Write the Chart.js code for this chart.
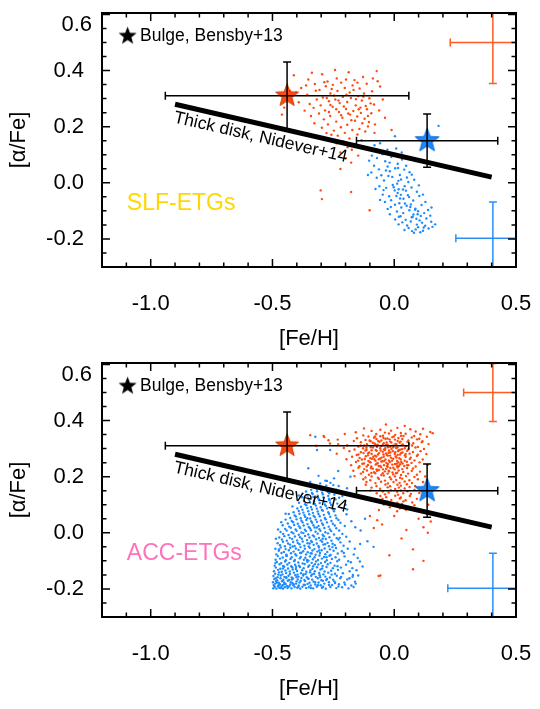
<!DOCTYPE html>
<html><head><meta charset="utf-8">
<script src="https://cdn.jsdelivr.net/npm/chart.js@4.4.1/dist/chart.umd.min.js"></script>
<style>
html,body{margin:0;padding:0;background:#fff;width:540px;height:709px;overflow:hidden;}
canvas{position:absolute;left:0;}
#c1{top:0}
#c2{top:350px}
</style></head><body>
<canvas id="c1" width="540" height="350"></canvas>
<canvas id="c2" width="540" height="350"></canvas>
<script>
// ---------------- axes / ticks ----------------
const xRange = [-1.2, 0.5];
const yRange = [-0.3, 0.605];
const xMajorTicks = [-1.0, -0.5, 0.0, 0.5];
const xMinorTicks = [-1.1,-0.9,-0.8,-0.7,-0.6,-0.4,-0.3,-0.2,-0.1,0.1,0.2,0.3,0.4];
const yMajorTicks = [-0.2, 0.0, 0.2, 0.4, 0.6];
const yMinorTicks = [-0.25,-0.15,-0.1,-0.05,0.05,0.1,0.15,0.25,0.3,0.35,0.45,0.5,0.55];
const xTitle = '[Fe/H]';
const yTitle = '[\u03b1/Fe]';

// ---------------- reference relations ----------------
const thickDiskFeH = [-0.9, 0.4];
const thickDiskAlpha = [0.28, 0.02];
const bulgeMarker = [-1.095, 0.523];
const redStar = {x:-0.44, y:0.31, xerr:0.50, yerr:0.12};
const blueStar = {x:0.135, y:0.15, xerr:0.29, yerr:0.095};

// typical error crosses
const slfRedErr = {x:0.405, y:0.50, xerr:0.175, yerr:0.146};
const slfBlueErr = {x:0.405, y:-0.198, xerr:0.152, yerr:0.13};
const accRedErr = {x:0.405, y:0.50, xerr:0.12, yerr:0.103};
const accBlueErr = {x:0.405, y:-0.198, xerr:0.185, yerr:0.125};

// ---------------- SLF-ETGs ----------------
const slfRed = [[-0.412,0.383],[-0.338,0.392],[-0.353,0.368],[-0.296,0.387],[-0.243,0.402],[-0.187,0.394],[-0.128,0.377],[-0.072,0.398],[-0.163,0.366],[-0.274,0.361],[-0.382,0.338],[-0.428,0.327],[-0.357,0.314],[-0.326,0.352],[-0.307,0.331],[-0.281,0.344],[-0.252,0.349],[-0.218,0.357],[-0.203,0.338],[-0.171,0.347],[-0.142,0.336],[-0.113,0.353],[-0.091,0.326],[-0.058,0.343],[-0.262,0.318],[-0.233,0.327],[-0.211,0.306],[-0.183,0.322],[-0.148,0.309],[-0.124,0.318],[-0.293,0.304],[-0.318,0.297],[-0.347,0.281],[-0.302,0.276],[-0.268,0.291],[-0.242,0.297],[-0.224,0.284],[-0.193,0.288],[-0.158,0.276],[-0.133,0.293],[-0.102,0.301],[-0.083,0.279],[-0.331,0.267],[-0.284,0.258],[-0.253,0.271],[-0.227,0.252],[-0.198,0.263],[-0.168,0.256],[-0.139,0.268],[-0.112,0.262],[-0.094,0.248],[-0.309,0.247],[-0.263,0.238],[-0.213,0.232],[-0.181,0.243],[-0.152,0.236],[-0.122,0.228],[-0.289,0.226],[-0.342,0.238],[-0.238,0.218],[-0.193,0.207],[-0.161,0.221],[-0.131,0.212],[-0.104,0.217],[-0.272,0.208],[-0.297,0.196],[-0.219,0.198],[-0.172,0.188],[-0.143,0.192],[-0.248,0.186],[-0.203,0.178],[-0.119,0.183],[-0.278,0.177],[-0.232,0.168],[-0.184,0.158],[-0.151,0.172],[-0.209,0.147],[-0.162,0.138],[-0.191,0.127],[-0.237,0.141],[-0.134,0.152],[-0.174,0.118],[-0.221,0.108],[-0.148,0.097],[-0.198,0.088],[-0.177,0.072],[-0.452,0.268],[-0.461,0.243],[-0.392,0.287],[-0.368,0.257],[-0.403,0.322],[-0.047,0.297],[-0.062,0.258],[-0.038,0.232],[-0.011,0.188],[-0.079,0.208],[-0.068,0.362],[-0.302,-0.027],[-0.297,-0.058],[-0.177,-0.033],[-0.101,-0.098],[-0.221,0.049],[-0.257,0.334],[-0.236,0.372],[-0.198,0.368],[-0.178,0.302],[-0.229,0.293],[-0.262,0.277],[-0.207,0.272],[-0.189,0.247],[-0.157,0.298],[-0.137,0.249],[-0.117,0.274],[-0.247,0.311],[-0.277,0.302],[-0.196,0.314],[-0.167,0.331],[-0.127,0.307],[-0.097,0.283],[-0.238,0.262],[-0.268,0.252],[-0.218,0.241],[-0.176,0.223],[-0.146,0.262],[-0.108,0.238],[-0.322,0.328],[-0.287,0.358],[-0.151,0.357],[-0.088,0.372],[-0.362,0.347],[-0.328,0.212],[-0.258,0.171],[-0.108,0.201],[-0.081,0.178]];

const slfBlue = [[0.182,0.203],[-0.081,0.134],[-0.058,0.141],[0.003,0.166],[-0.028,0.118],[-0.092,0.097],[-0.103,0.079],[-0.071,0.088],[-0.048,0.102],[-0.037,0.077],[-0.083,0.061],[-0.063,0.048],[-0.094,0.037],[-0.027,0.058],[-0.012,0.092],[0.014,0.068],[0.032,0.083],[-0.053,0.027],[-0.018,0.041],[0.004,0.052],[0.023,0.028],[0.041,0.047],[-0.072,0.018],[-0.042,0.008],[-0.008,0.021],[0.012,-0.003],[0.028,0.012],[0.052,0.019],[0.063,0.038],[-0.061,-0.012],[-0.033,-0.018],[-0.006,-0.008],[0.018,-0.023],[0.043,-0.012],[0.058,0.003],[0.082,0.011],[-0.047,-0.042],[-0.021,-0.048],[0.002,-0.027],[0.027,-0.043],[0.048,-0.028],[0.071,-0.017],[0.093,-0.032],[-0.038,-0.068],[-0.013,-0.062],[0.009,-0.047],[0.021,-0.073],[0.038,-0.057],[0.061,-0.051],[0.078,-0.063],[0.103,-0.047],[-0.027,-0.093],[0.003,-0.078],[0.029,-0.088],[0.051,-0.082],[0.068,-0.077],[0.087,-0.092],[0.112,-0.079],[-0.018,-0.112],[0.011,-0.102],[0.037,-0.108],[0.062,-0.098],[0.079,-0.113],[0.098,-0.101],[0.123,-0.108],[0.004,-0.131],[0.026,-0.119],[0.047,-0.132],[0.072,-0.123],[0.091,-0.128],[0.109,-0.118],[0.132,-0.127],[0.148,-0.117],[0.018,-0.148],[0.053,-0.152],[0.068,-0.138],[0.093,-0.149],[0.114,-0.142],[0.127,-0.153],[0.152,-0.139],[0.042,-0.168],[0.073,-0.172],[0.098,-0.158],[0.118,-0.171],[0.141,-0.163],[0.157,-0.157],[0.081,-0.178],[0.107,-0.176],[0.059,-0.161],[0.168,-0.148],[0.139,-0.097],[0.128,-0.068],[0.118,-0.042],[0.101,-0.009],[0.153,-0.088],[-0.108,0.028],[-0.077,-0.022],[-0.058,-0.061],[0.008,0.122],[0.031,0.108],[-0.019,0.072],[0.017,0.007],[-0.002,-0.016],[0.036,-0.024],[0.014,-0.036],[0.056,-0.044],[0.044,-0.074],[0.024,-0.056],[0.066,-0.086],[0.086,-0.096],[0.076,-0.121],[0.096,-0.112],[0.033,-0.141],[0.104,-0.134],[-0.044,-0.026],[-0.024,0.024],[0.016,0.053],[-0.034,0.044],[0.049,0.061],[0.072,0.029],[-0.014,-0.086],[0.019,-0.121],[0.121,-0.159],[0.088,-0.166]];

// ---------------- ACC-ETGs ----------------
const accRed = [[-0.034,0.386],[0.043,0.381],
[-0.124,0.372],[-0.057,0.367],[0.013,0.374],[0.066,0.369],[0.118,0.371],
[-0.158,0.358],[-0.093,0.363],[-0.038,0.357],[-0.013,0.364],[0.027,0.356],[0.088,0.361],[0.148,0.359],
[-0.203,0.352],[-0.127,0.347],[-0.074,0.352],[-0.046,0.346],[-0.022,0.354],[0.004,0.349],[0.047,0.353],[0.082,0.345],[0.107,0.351],[0.158,0.355],
[-0.287,0.341],[-0.153,0.337],[-0.106,0.343],[-0.083,0.339],[-0.057,0.344],[-0.028,0.336],[-0.008,0.341],[0.017,0.338],[0.038,0.345],[0.072,0.34],[0.103,0.335],[0.134,0.342],
[-0.232,0.332],[-0.166,0.327],[-0.118,0.331],[-0.097,0.326],[-0.073,0.334],[-0.053,0.329],[-0.036,0.335],[-0.017,0.325],[0.003,0.332],[0.014,0.327],[0.033,0.334],[0.058,0.329],[0.094,0.333],[0.116,0.326],
[-0.264,0.318],[-0.137,0.323],[-0.112,0.316],[-0.088,0.321],[-0.077,0.315],[-0.061,0.324],[-0.043,0.319],[-0.027,0.314],[-0.012,0.322],[0.005,0.317],[0.022,0.321],[0.036,0.315],[0.054,0.324],[0.078,0.319],[0.113,0.323],[0.141,0.316],
[-0.193,0.312],[-0.147,0.307],[-0.123,0.311],[-0.096,0.305],[-0.068,0.314],[-0.052,0.309],[-0.034,0.313],[-0.016,0.306],[-0.003,0.311],[0.013,0.304],[0.031,0.313],[0.048,0.308],[0.073,0.311],[0.097,0.306],
[-0.207,0.302],[-0.163,0.297],[-0.128,0.301],[-0.114,0.296],[-0.087,0.304],[-0.076,0.295],[-0.058,0.301],[-0.042,0.297],[-0.026,0.305],[-0.011,0.299],[0.008,0.302],[0.024,0.296],[0.043,0.301],[0.057,0.297],[0.087,0.304],[0.122,0.299],
[-0.184,0.291],[-0.137,0.287],[-0.118,0.293],[-0.103,0.286],[-0.072,0.292],[-0.047,0.289],[-0.038,0.295],[-0.023,0.285],[-0.006,0.291],[0.004,0.287],[0.018,0.294],[0.034,0.286],[0.053,0.292],[0.077,0.288],[0.108,0.291],
[-0.236,0.282],[-0.154,0.277],[-0.126,0.284],[-0.108,0.276],[-0.093,0.281],[-0.079,0.275],[-0.062,0.284],[-0.044,0.279],[-0.033,0.283],[-0.017,0.275],[0.002,0.281],[0.014,0.277],[0.028,0.284],[0.044,0.276],[0.063,0.282],[0.097,0.278],[0.132,0.281],
[-0.173,0.271],[-0.142,0.267],[-0.117,0.273],[-0.098,0.266],[-0.074,0.272],[-0.057,0.265],[-0.043,0.271],[-0.026,0.275],[-0.013,0.267],[0.006,0.272],[0.021,0.266],[0.047,0.271],[0.068,0.268],[0.093,0.274],
[-0.196,0.262],[-0.148,0.257],[-0.133,0.261],[-0.106,0.256],[-0.092,0.264],[-0.077,0.257],[-0.063,0.262],[-0.048,0.255],[-0.036,0.261],[-0.022,0.258],[-0.004,0.264],[0.012,0.256],[0.027,0.261],[0.043,0.257],[0.064,0.263],[0.083,0.258],[0.117,0.261],
[-0.157,0.252],[-0.124,0.247],[-0.097,0.251],[-0.073,0.246],[-0.053,0.254],[-0.032,0.249],[-0.018,0.252],[0.003,0.245],[0.017,0.251],[0.034,0.247],[0.052,0.253],[0.071,0.249],[0.104,0.251],
[-0.177,0.241],[-0.143,0.237],[-0.108,0.242],[-0.094,0.236],[-0.076,0.243],[-0.057,0.238],[-0.042,0.241],[-0.027,0.235],[-0.008,0.243],[0.012,0.237],[0.024,0.244],[0.041,0.238],[0.058,0.241],[0.088,0.236],[0.137,0.242],
[-0.147,0.232],[-0.123,0.227],[-0.096,0.231],[-0.072,0.226],[-0.054,0.234],[-0.033,0.228],[-0.016,0.231],[0.002,0.226],[0.014,0.233],[0.033,0.227],[0.053,0.231],[0.077,0.229],
[-0.168,0.221],[-0.128,0.217],[-0.112,0.222],[-0.083,0.216],[-0.063,0.224],[-0.038,0.219],[-0.023,0.221],[-0.007,0.215],[0.018,0.222],[0.037,0.217],[0.072,0.221],[0.106,0.218],
[-0.137,0.211],[-0.104,0.207],[-0.078,0.212],[-0.053,0.206],[-0.027,0.211],[-0.004,0.208],[0.012,0.214],[0.028,0.206],[0.057,0.211],[0.093,0.207],
[-0.163,0.202],[-0.118,0.197],[-0.093,0.201],[-0.067,0.196],[-0.043,0.204],[-0.018,0.198],[0.003,0.201],[0.024,0.196],[0.048,0.202],[0.083,0.199],[0.127,0.201],
[-0.127,0.191],[-0.098,0.187],[-0.063,0.192],[-0.038,0.186],[-0.013,0.191],[0.008,0.188],[0.033,0.193],[0.062,0.187],[0.097,0.191],
[-0.114,0.181],[-0.077,0.177],[-0.054,0.182],[-0.026,0.176],[-0.003,0.181],[0.022,0.178],[0.043,0.183],[0.073,0.177],[0.118,0.181],
[-0.117,0.171],[-0.073,0.167],[-0.036,0.172],[-0.017,0.166],[0.013,0.171],[0.027,0.168],[0.052,0.173],[0.086,0.167],
[-0.093,0.161],[-0.058,0.157],[-0.027,0.162],[0.004,0.156],[0.019,0.161],[0.043,0.158],[0.063,0.163],[0.107,0.157],
[-0.097,0.151],[-0.047,0.147],[-0.014,0.152],[0.012,0.146],[0.028,0.151],[0.054,0.148],[0.083,0.153],
[-0.072,0.141],[-0.038,0.137],[-0.023,0.143],[0.016,0.136],[0.037,0.141],[0.068,0.138],[0.103,0.142],
[-0.057,0.131],[-0.033,0.127],[0.004,0.132],[0.027,0.126],[0.064,0.131],
[-0.048,0.121],[-0.012,0.117],[0.023,0.122],[0.047,0.116],[0.093,0.121],
[-0.027,0.111],[0.013,0.107],[0.038,0.112],[0.074,0.108],
[-0.043,0.101],[0.004,0.097],[0.032,0.103],[0.083,0.098],
[-0.018,0.091],[0.023,0.087],[0.057,0.092],
[-0.063,0.081],[0.012,0.077],[0.048,0.082],
[-0.101,0.329],[-0.081,0.318],[-0.066,0.327],[-0.047,0.314],[-0.031,0.322],[-0.019,0.333],[0.009,0.316],[0.026,0.325],[-0.114,0.303],[-0.093,0.294],[-0.071,0.306],[-0.056,0.293],[-0.037,0.301],[-0.021,0.293],[-0.004,0.305],[0.016,0.291],[0.032,0.298],[-0.107,0.283],[-0.086,0.271],[-0.067,0.279],[-0.052,0.268],[-0.031,0.277],[-0.016,0.286],[0.009,0.268],[0.024,0.279],[-0.121,0.263],[-0.101,0.252],[-0.082,0.262],[-0.068,0.248],[-0.041,0.256],[-0.026,0.245],[-0.009,0.257],[0.011,0.246],[0.029,0.252],[-0.113,0.236],[-0.088,0.228],[-0.064,0.238],[-0.046,0.226],[-0.029,0.239],[-0.004,0.232],[0.019,0.238],[-0.094,0.213],[-0.071,0.221],[-0.047,0.212],[-0.021,0.218],[0.007,0.212],[-0.079,0.343],[-0.044,0.338],[-0.002,0.343],[0.028,0.346],[-0.138,0.311],[0.061,0.316],[0.047,0.281],[0.053,0.241],[-0.131,0.246],[-0.147,0.279],
[-0.345,0.348],[-0.29,0.345],[-0.23,0.316],[-0.27,0.33],[-0.32,0.31],[-0.07,0.045],[-0.05,0.03],[-0.084,0.017],[0.077,-0.059],[0.12,-0.10],[0.077,-0.13],[-0.064,-0.154],[0.138,0.0],[-0.057,-0.152],[0.03,-0.02],[0.10,0.05],[0.12,0.02],[-0.10,0.06],[0.14,0.10],[0.15,0.04],[0.0,0.06],[-0.02,-0.08],[0.05,0.01]];

const accBlue = [
[-0.497,-0.198],[-0.491,-0.193],[-0.484,-0.199],[-0.478,-0.191],[-0.472,-0.196],[-0.463,-0.192],[-0.457,-0.199],[-0.449,-0.194],[-0.438,-0.197],[-0.431,-0.191],[-0.422,-0.198],[-0.409,-0.193],[-0.398,-0.196],[-0.386,-0.199],[-0.377,-0.192],[-0.362,-0.197],[-0.351,-0.194],[-0.333,-0.198],[-0.318,-0.192],[-0.297,-0.196],[-0.281,-0.199],[-0.262,-0.193],[-0.238,-0.197],[-0.214,-0.194],[-0.188,-0.198],
[-0.495,-0.186],[-0.488,-0.181],[-0.476,-0.188],[-0.469,-0.183],[-0.458,-0.187],[-0.446,-0.182],[-0.441,-0.189],[-0.427,-0.184],[-0.414,-0.187],[-0.403,-0.181],[-0.392,-0.188],[-0.371,-0.185],[-0.356,-0.182],[-0.343,-0.188],[-0.324,-0.184],[-0.302,-0.187],[-0.287,-0.181],[-0.255,-0.186],[-0.227,-0.183],[-0.176,-0.188],
[-0.498,-0.176],[-0.486,-0.172],[-0.474,-0.178],[-0.461,-0.173],[-0.452,-0.177],[-0.437,-0.171],[-0.425,-0.176],[-0.418,-0.179],[-0.401,-0.173],[-0.389,-0.177],[-0.366,-0.172],[-0.348,-0.178],[-0.331,-0.174],[-0.311,-0.177],[-0.293,-0.171],[-0.268,-0.176],[-0.246,-0.173],[-0.205,-0.177],[-0.161,-0.174],
[-0.493,-0.165],[-0.481,-0.169],[-0.467,-0.162],[-0.455,-0.167],[-0.443,-0.161],[-0.432,-0.168],[-0.416,-0.163],[-0.396,-0.166],[-0.381,-0.161],[-0.369,-0.168],[-0.352,-0.164],[-0.337,-0.167],[-0.314,-0.162],[-0.299,-0.169],[-0.276,-0.164],[-0.251,-0.167],[-0.222,-0.162],[-0.193,-0.166],
[-0.496,-0.154],[-0.479,-0.158],[-0.466,-0.152],[-0.451,-0.157],[-0.434,-0.153],[-0.421,-0.159],[-0.406,-0.151],[-0.393,-0.156],[-0.374,-0.152],[-0.359,-0.158],[-0.341,-0.153],[-0.322,-0.157],[-0.306,-0.151],[-0.283,-0.156],[-0.264,-0.159],[-0.236,-0.153],[-0.171,-0.157],
[-0.489,-0.146],[-0.473,-0.141],[-0.459,-0.148],[-0.444,-0.143],[-0.428,-0.147],[-0.412,-0.142],[-0.397,-0.149],[-0.383,-0.144],[-0.364,-0.147],[-0.346,-0.141],[-0.329,-0.146],[-0.308,-0.143],[-0.291,-0.148],[-0.271,-0.142],[-0.243,-0.146],[-0.211,-0.144],
[-0.494,-0.137],[-0.477,-0.132],[-0.462,-0.139],[-0.447,-0.134],[-0.429,-0.138],[-0.417,-0.131],[-0.399,-0.136],[-0.378,-0.133],[-0.361,-0.139],[-0.344,-0.134],[-0.326,-0.137],[-0.303,-0.131],[-0.286,-0.138],[-0.259,-0.135],[-0.231,-0.132],[-0.183,-0.137],[-0.155,-0.133],
[-0.486,-0.124],[-0.468,-0.128],[-0.452,-0.121],[-0.436,-0.127],[-0.419,-0.123],[-0.404,-0.129],[-0.387,-0.122],[-0.372,-0.126],[-0.353,-0.121],[-0.336,-0.128],[-0.317,-0.123],[-0.296,-0.127],[-0.278,-0.122],[-0.252,-0.126],[-0.219,-0.124],
[-0.491,-0.117],[-0.471,-0.112],[-0.456,-0.118],[-0.439,-0.113],[-0.423,-0.119],[-0.407,-0.114],[-0.391,-0.117],[-0.368,-0.111],[-0.349,-0.116],[-0.333,-0.119],[-0.312,-0.113],[-0.294,-0.118],[-0.273,-0.112],[-0.245,-0.117],[-0.198,-0.114],
[-0.482,-0.104],[-0.464,-0.108],[-0.448,-0.102],[-0.431,-0.107],[-0.411,-0.101],[-0.394,-0.106],[-0.376,-0.109],[-0.357,-0.103],[-0.339,-0.107],[-0.321,-0.102],[-0.301,-0.108],[-0.284,-0.104],[-0.262,-0.107],[-0.234,-0.101],[-0.178,-0.105],
[-0.487,-0.096],[-0.469,-0.092],[-0.445,-0.098],[-0.426,-0.093],[-0.408,-0.097],[-0.388,-0.091],[-0.371,-0.096],[-0.352,-0.099],[-0.334,-0.094],[-0.313,-0.097],[-0.297,-0.092],[-0.277,-0.098],[-0.256,-0.093],[-0.226,-0.096],
[-0.478,-0.083],[-0.458,-0.088],[-0.441,-0.082],[-0.421,-0.087],[-0.402,-0.081],[-0.384,-0.086],[-0.365,-0.089],[-0.346,-0.084],[-0.327,-0.087],[-0.307,-0.081],[-0.288,-0.086],[-0.266,-0.082],[-0.241,-0.087],[-0.204,-0.084],
[-0.484,-0.077],[-0.463,-0.072],[-0.443,-0.078],[-0.424,-0.073],[-0.406,-0.076],[-0.381,-0.071],[-0.362,-0.077],[-0.343,-0.073],[-0.323,-0.078],[-0.305,-0.072],[-0.283,-0.076],[-0.261,-0.079],[-0.232,-0.074],[-0.166,-0.077],
[-0.474,-0.064],[-0.453,-0.068],[-0.433,-0.062],[-0.413,-0.067],[-0.393,-0.061],[-0.374,-0.066],[-0.355,-0.069],[-0.336,-0.063],[-0.316,-0.067],[-0.298,-0.062],[-0.275,-0.068],[-0.249,-0.064],[-0.215,-0.066],
[-0.488,-0.057],[-0.466,-0.052],[-0.446,-0.058],[-0.427,-0.053],[-0.404,-0.056],[-0.385,-0.051],[-0.367,-0.057],[-0.347,-0.053],[-0.328,-0.058],[-0.309,-0.052],[-0.286,-0.056],[-0.264,-0.059],[-0.239,-0.054],[-0.191,-0.057],
[-0.469,-0.044],[-0.449,-0.048],[-0.428,-0.042],[-0.409,-0.047],[-0.389,-0.041],[-0.369,-0.046],[-0.351,-0.049],[-0.331,-0.043],[-0.311,-0.047],[-0.291,-0.042],[-0.268,-0.048],[-0.244,-0.044],[-0.208,-0.046],
[-0.479,-0.037],[-0.457,-0.032],[-0.436,-0.038],[-0.415,-0.033],[-0.396,-0.036],[-0.376,-0.031],[-0.356,-0.037],[-0.338,-0.033],[-0.318,-0.038],[-0.296,-0.032],[-0.274,-0.036],[-0.253,-0.039],[-0.221,-0.034],
[-0.461,-0.024],[-0.441,-0.028],[-0.419,-0.022],[-0.399,-0.027],[-0.379,-0.021],[-0.358,-0.026],[-0.341,-0.029],[-0.321,-0.023],[-0.302,-0.027],[-0.281,-0.022],[-0.258,-0.028],[-0.229,-0.024],
[-0.472,-0.017],[-0.451,-0.012],[-0.429,-0.018],[-0.408,-0.013],[-0.387,-0.016],[-0.366,-0.011],[-0.348,-0.017],[-0.329,-0.013],[-0.309,-0.018],[-0.289,-0.012],[-0.266,-0.016],[-0.236,-0.019],[-0.197,-0.014],
[-0.456,-0.004],[-0.434,-0.008],[-0.414,-0.002],[-0.392,-0.007],[-0.373,-0.001],[-0.353,-0.006],[-0.334,-0.009],[-0.314,-0.003],[-0.294,-0.007],[-0.272,-0.002],[-0.247,-0.006],[-0.213,-0.004],
[-0.467,0.003],[-0.442,0.008],[-0.421,0.002],[-0.401,0.007],[-0.381,0.001],[-0.362,0.006],[-0.342,0.009],[-0.323,0.004],[-0.303,0.007],[-0.283,0.002],[-0.259,0.006],[-0.226,0.008],
[-0.448,0.014],[-0.425,0.018],[-0.405,0.012],[-0.386,0.017],[-0.367,0.011],[-0.346,0.016],[-0.327,0.019],[-0.307,0.013],[-0.287,0.017],[-0.264,0.012],[-0.238,0.016],
[-0.458,0.027],[-0.431,0.022],[-0.411,0.028],[-0.391,0.023],[-0.372,0.026],[-0.351,0.021],[-0.332,0.027],[-0.311,0.024],[-0.292,0.028],[-0.269,0.022],[-0.244,0.026],[-0.203,0.024],
[-0.437,0.033],[-0.415,0.038],[-0.396,0.032],[-0.376,0.037],[-0.356,0.031],[-0.337,0.036],[-0.317,0.039],[-0.296,0.033],[-0.276,0.037],[-0.252,0.032],[-0.221,0.036],
[-0.446,0.047],[-0.421,0.042],[-0.401,0.048],[-0.381,0.043],[-0.361,0.046],[-0.341,0.041],[-0.322,0.047],[-0.301,0.044],[-0.281,0.048],[-0.258,0.042],[-0.229,0.046],
[-0.427,0.053],[-0.404,0.058],[-0.384,0.052],[-0.366,0.057],[-0.345,0.051],[-0.326,0.056],[-0.306,0.059],[-0.285,0.053],[-0.263,0.057],[-0.237,0.052],
[-0.433,0.067],[-0.409,0.062],[-0.389,0.068],[-0.369,0.063],[-0.349,0.066],[-0.331,0.061],[-0.311,0.067],[-0.289,0.064],[-0.268,0.068],[-0.241,0.062],[-0.196,0.066],
[-0.413,0.073],[-0.392,0.078],[-0.373,0.072],[-0.353,0.077],[-0.334,0.071],[-0.314,0.076],[-0.293,0.079],[-0.271,0.073],[-0.247,0.077],
[-0.398,0.087],[-0.377,0.082],[-0.357,0.088],[-0.338,0.083],[-0.318,0.086],[-0.297,0.081],[-0.276,0.087],[-0.252,0.084],[-0.216,0.088],
[-0.383,0.093],[-0.361,0.098],[-0.342,0.092],[-0.322,0.097],[-0.302,0.091],[-0.281,0.096],[-0.259,0.099],
[-0.391,0.107],[-0.366,0.102],[-0.346,0.108],[-0.326,0.103],[-0.306,0.106],[-0.285,0.101],[-0.263,0.107],[-0.234,0.104],
[-0.371,0.113],[-0.349,0.118],[-0.329,0.112],[-0.309,0.117],[-0.288,0.111],[-0.266,0.116],[-0.241,0.119],
[-0.378,0.127],[-0.353,0.122],[-0.332,0.128],[-0.312,0.123],[-0.291,0.126],[-0.268,0.121],[-0.226,0.125],
[-0.356,0.133],[-0.335,0.138],[-0.314,0.132],[-0.293,0.137],[-0.271,0.131],[-0.246,0.136],
[-0.362,0.147],[-0.338,0.142],[-0.317,0.148],[-0.296,0.143],[-0.273,0.146],
[-0.341,0.153],[-0.319,0.158],[-0.298,0.152],[-0.276,0.157],[-0.238,0.154],
[-0.322,0.167],[-0.301,0.162],[-0.279,0.168],
[-0.345,0.181],[-0.304,0.176],[-0.283,0.186],[-0.262,0.178],
[-0.493,-0.189],[-0.482,-0.177],[-0.471,-0.185],[-0.487,-0.162],[-0.466,-0.197],[-0.452,-0.183],[-0.476,-0.149],[-0.459,-0.171],[-0.444,-0.158],[-0.436,-0.192],[-0.421,-0.167],[-0.413,-0.183],[-0.401,-0.158],[-0.394,-0.193],[-0.384,-0.171],[-0.373,-0.148],[-0.367,-0.186],[-0.354,-0.163],[-0.342,-0.197],[-0.337,-0.148],[-0.325,-0.176],[-0.313,-0.187],[-0.304,-0.158],[-0.292,-0.192],[-0.279,-0.168],[-0.268,-0.186],[-0.257,-0.149],[-0.243,-0.179],[-0.229,-0.191],[-0.218,-0.157],[-0.202,-0.184],[-0.184,-0.162],[-0.167,-0.193],[-0.158,-0.181],
[-0.488,-0.108],[-0.473,-0.059],[-0.457,-0.127],[-0.443,-0.082],[-0.417,-0.049],[-0.403,-0.121],[-0.386,-0.072],[-0.358,-0.097],[-0.347,-0.038],[-0.326,-0.112],[-0.308,-0.063],[-0.294,-0.021],[-0.278,-0.087],[-0.254,-0.051],[-0.233,-0.119],[-0.224,-0.018],[-0.207,-0.072],[-0.189,-0.101],[-0.183,-0.031],[-0.172,-0.126],[-0.162,-0.057],[-0.148,-0.152],[-0.141,-0.102],[-0.138,0.008],[-0.176,0.041],[-0.193,0.083],[-0.213,0.131],[-0.228,0.167],[-0.247,0.194],[-0.311,0.203],[-0.392,0.133],[-0.418,0.094],[-0.446,0.068],[-0.464,0.038],[-0.477,0.012],[-0.486,-0.021],[-0.364,0.171],[-0.267,0.141],[-0.357,0.052],[-0.318,0.019],[-0.284,-0.041],[-0.339,-0.074],
[-0.43,0.295],[-0.317,0.295],[-0.324,0.342],[-0.263,0.295],[-0.353,0.23],[-0.276,0.185],[-0.194,0.159],[-0.11,-0.03],[-0.085,-0.05],[-0.15,-0.09],[-0.13,-0.12],[-0.16,0.02],[-0.20,0.10],[-0.18,0.20],[-0.23,0.22],[-0.25,0.17],[-0.14,-0.04],[-0.12,0.05],[-0.17,-0.15]];

// ---------------- styling ----------------
const FONT = '"Liberation Sans", Arial, Helvetica, sans-serif';
const RED = '#FF4A0F';
const BLUE = '#1C8BFF';
const RED_ERR = '#FF5A22';
const BLUE_ERR = '#2A90F5';

function starImg(r, fill, edge) {
  const s = Math.ceil(2 * r + 4);
  const c = document.createElement('canvas');
  c.width = s; c.height = s;
  const g = c.getContext('2d');
  const cx = s / 2, cy = s / 2;
  g.beginPath();
  for (let i = 0; i < 10; i++) {
    const rr = (i % 2) ? r * 0.42 : r;
    const a = -Math.PI / 2 + i * Math.PI / 5;
    g.lineTo(cx + rr * Math.cos(a), cy + rr * Math.sin(a));
  }
  g.closePath();
  g.fillStyle = fill; g.fill();
  if (edge) { g.strokeStyle = edge; g.lineWidth = 1; g.stroke(); }
  return c;
}
const redStarImg = starImg(12, '#FF4A12', '#C93A00');
const blueStarImg = starImg(12.5, '#1C88FF', '#0A64D6');
const blackStarImg = starImg(9.5, '#000', null);

function drawErr(ctx, xs, ys, e, color, lw, cap) {
  const cx = xs.getPixelForValue(e.x), cy = ys.getPixelForValue(e.y);
  const x1 = xs.getPixelForValue(e.x - e.xerr), x2 = xs.getPixelForValue(e.x + e.xerr);
  const y1 = ys.getPixelForValue(e.y - e.yerr), y2 = ys.getPixelForValue(e.y + e.yerr);
  ctx.strokeStyle = color; ctx.lineWidth = lw;
  ctx.beginPath();
  ctx.moveTo(x1, cy); ctx.lineTo(x2, cy);
  ctx.moveTo(cx, y1); ctx.lineTo(cx, y2);
  ctx.moveTo(x1, cy - cap); ctx.lineTo(x1, cy + cap);
  ctx.moveTo(x2, cy - cap); ctx.lineTo(x2, cy + cap);
  ctx.moveTo(cx - cap, y1); ctx.lineTo(cx + cap, y1);
  ctx.moveTo(cx - cap, y2); ctx.lineTo(cx + cap, y2);
  ctx.stroke();
}

const decor = {
  id: 'decor',
  afterDatasetsDraw(chart, args, opts) {
    const ctx = chart.ctx, a = chart.chartArea, xs = chart.scales.x, ys = chart.scales.y;
    ctx.save();
    ctx.beginPath(); ctx.rect(a.left, a.top, a.right - a.left, a.bottom - a.top); ctx.clip();
    const p1x = xs.getPixelForValue(thickDiskFeH[0]), p1y = ys.getPixelForValue(thickDiskAlpha[0]);
    const p2x = xs.getPixelForValue(thickDiskFeH[1]), p2y = ys.getPixelForValue(thickDiskAlpha[1]);
    const ang = Math.atan2(p2y - p1y, p2x - p1x);
    ctx.save();
    ctx.translate(p1x, p1y); ctx.rotate(ang);
    ctx.font = '17.5px ' + FONT; ctx.fillStyle = '#000';
    ctx.textBaseline = 'top'; ctx.textAlign = 'left';
    ctx.fillText('Thick disk, Nidever+14', 2, 4.5);
    ctx.restore();
    ctx.font = '17.5px ' + FONT; ctx.fillStyle = '#000';
    ctx.textBaseline = 'middle'; ctx.textAlign = 'left';
    ctx.fillText('Bulge, Bensby+13', xs.getPixelForValue(bulgeMarker[0]) + 12.5, ys.getPixelForValue(bulgeMarker[1]));
    ctx.font = '23px ' + FONT; ctx.fillStyle = opts.labelColor;
    ctx.fillText(opts.label, xs.getPixelForValue(-1.098), ys.getPixelForValue(-0.073));
    drawErr(ctx, xs, ys, redStar, '#000', 1.5, 4);
    drawErr(ctx, xs, ys, blueStar, '#000', 1.5, 4);
    drawErr(ctx, xs, ys, opts.redErr, RED_ERR, 1.5, 4);
    drawErr(ctx, xs, ys, opts.blueErr, BLUE_ERR, 1.5, 4);
    ctx.restore();
  },
  afterDraw(chart) {
    const ctx = chart.ctx, a = chart.chartArea, xs = chart.scales.x, ys = chart.scales.y;
    ctx.save();
    ctx.strokeStyle = '#000'; ctx.lineWidth = 1.5;
    ctx.beginPath();
    const tx = (v, L) => { const p = xs.getPixelForValue(v);
      ctx.moveTo(p, a.bottom); ctx.lineTo(p, a.bottom - L);
      ctx.moveTo(p, a.top); ctx.lineTo(p, a.top + L); };
    const ty = (v, L) => { const p = ys.getPixelForValue(v);
      ctx.moveTo(a.left, p); ctx.lineTo(a.left + L, p);
      ctx.moveTo(a.right, p); ctx.lineTo(a.right - L, p); };
    xMajorTicks.forEach(v => tx(v, 8)); xMinorTicks.forEach(v => tx(v, 4.5));
    yMajorTicks.forEach(v => ty(v, 8)); yMinorTicks.forEach(v => ty(v, 4.5));
    ctx.stroke();
    ctx.lineWidth = 2;
    ctx.strokeRect(a.left, a.top, a.right - a.left, a.bottom - a.top);
    const topVal = yMajorTicks[yMajorTicks.length - 1];
    ctx.font = '22px ' + FONT; ctx.fillStyle = '#000';
    ctx.textAlign = 'right'; ctx.textBaseline = 'middle';
    ctx.fillText(topVal.toFixed(1), a.left - 10, ys.getPixelForValue(topVal) + 11);
    ctx.restore();
  }
};

const pts = arr => arr.map(p => ({x: p[0], y: p[1]}));
const topTick = yMajorTicks[yMajorTicks.length - 1];

function makeChart(id, red, blue, label, labelColor, redErr, blueErr) {
  return new Chart(document.getElementById(id), {
    type: 'scatter',
    data: { datasets: [
      { data: [{x: redStar.x, y: redStar.y}], pointStyle: redStarImg, pointRadius: 6, order: 0 },
      { data: [{x: blueStar.x, y: blueStar.y}], pointStyle: blueStarImg, pointRadius: 6, order: 0 },
      { data: [{x: bulgeMarker[0], y: bulgeMarker[1]}], pointStyle: blackStarImg, pointRadius: 6, order: 0 },
      { data: thickDiskFeH.map((v, i) => ({x: v, y: thickDiskAlpha[i]})), showLine: true, borderColor: '#000', borderWidth: 5, pointRadius: 0, borderCapStyle: 'butt', order: 1 },
      { data: pts(blue), pointRadius: 1.2, backgroundColor: BLUE, borderWidth: 0, order: 2 },
      { data: pts(red), pointRadius: 1.2, backgroundColor: RED, borderWidth: 0, order: 3 }
    ]},
    options: {
      responsive: false, animation: false, events: [],
      layout: { padding: { top: 13, right: 24, left: 0, bottom: 0 } },
      plugins: { legend: { display: false }, tooltip: { enabled: false },
        decor: { label: label, labelColor: labelColor, redErr: redErr, blueErr: blueErr } },
      scales: {
        x: { type: 'linear', min: xRange[0], max: xRange[1],
          afterBuildTicks: s => { s.ticks = xMajorTicks.map(v => ({value: v})); },
          afterFit: s => { s.height = 83; s.paddingLeft = 0; s.paddingRight = 0; },
          grid: { display: false }, border: { display: false },
          ticks: { callback: v => Number(v).toFixed(1), font: { size: 22, family: FONT }, color: '#000', padding: 16, maxRotation: 0, autoSkip: false },
          title: { display: true, text: xTitle, font: { size: 22, family: FONT, lineHeight: 1 }, color: '#000', padding: { top: 0, bottom: 0 } } },
        y: { type: 'linear', min: yRange[0], max: yRange[1],
          afterBuildTicks: s => { s.ticks = yMajorTicks.map(v => ({value: v})); },
          afterFit: s => { s.width = 102; s.paddingTop = 0; s.paddingBottom = 0; },
          grid: { display: false }, border: { display: false },
          ticks: { callback: v => (v === topTick ? '' : Number(v).toFixed(1)), font: { size: 22, family: FONT }, color: '#000', padding: 10, autoSkip: false },
          title: { display: true, text: yTitle, font: { size: 22, family: FONT, lineHeight: 1 }, color: '#000', padding: { top: 8, bottom: 0 } } }
      }
    },
    plugins: [decor]
  });
}

makeChart('c1', slfRed, slfBlue, 'SLF-ETGs', '#FFD700', slfRedErr, slfBlueErr);
makeChart('c2', accRed, accBlue, 'ACC-ETGs', '#FF72BC', accRedErr, accBlueErr);
</script>
</body></html>
